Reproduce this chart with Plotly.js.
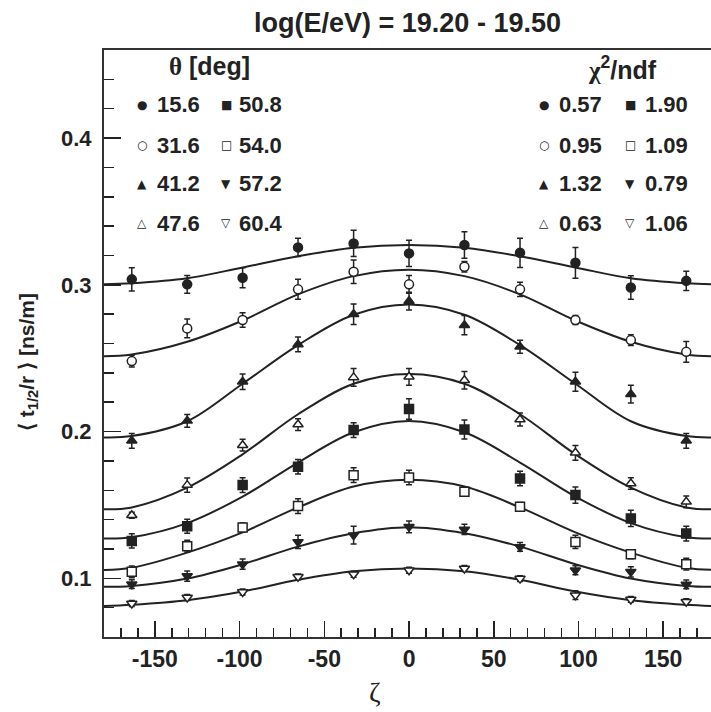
<!DOCTYPE html>
<html>
<head>
<meta charset="utf-8">
<script src="https://cdn.plot.ly/plotly-3.0.1.min.js"></script>
<style>html,body{margin:0;padding:0;background:#fff;overflow:hidden;}#chart{width:711px;height:712px;}</style>
</head>
<body>
<div id="chart"></div>
<script>
// zeta bin centres [deg]
const zeta = [-163.6, -130.9, -98.2, -65.5, -32.7, 0, 32.7, 65.5, 98.2, 130.9, 163.6];
// sampled fit curves
const zetaFit = [-180, -163.6, -130.9, -98.2, -65.5, -32.7, 0, 32.7, 65.5, 98.2, 130.9, 163.6, 180];

const thetaLabels = ['15.6', '31.6', '41.2', '47.6', '50.8', '54.0', '57.2', '60.4'];
const chi2Labels  = ['0.57', '0.95', '1.32', '0.63', '1.90', '1.09', '0.79', '1.06'];
const symbols     = ['circle', 'circle', 'triangle-up', 'triangle-up', 'square', 'square', 'triangle-down', 'triangle-down'];
const filled      = [true, false, true, false, true, false, true, false];
const glyphs      = ['●', '○', '▲', '△', '■', '□', '▼', '▽'];

// measured <t1/2/r> [ns/m]
const s156 = [0.3037, 0.3003, 0.3048, 0.3255, 0.3282, 0.3214, 0.3271, 0.3218, 0.3150, 0.2982, 0.3027];
const s316 = [0.2480, 0.2703, 0.2760, 0.2969, 0.3089, 0.3003, 0.3123, 0.2969, 0.2760, 0.2623, 0.2543];
const s412 = [0.1937, 0.2073, 0.2339, 0.2594, 0.2800, 0.2889, 0.2725, 0.2578, 0.2339, 0.2255, 0.1937];
const s476 = [0.1430, 0.1635, 0.1907, 0.2048, 0.2369, 0.2373, 0.2350, 0.2082, 0.1855, 0.1646, 0.1521];
const s508 = [0.1255, 0.1355, 0.1635, 0.1760, 0.2010, 0.2153, 0.2014, 0.1680, 0.1567, 0.1408, 0.1305];
const s540 = [0.1044, 0.1219, 0.1346, 0.1492, 0.1703, 0.1687, 0.1589, 0.1487, 0.1248, 0.1164, 0.1096];
const s572 = [0.0960, 0.1015, 0.1096, 0.1248, 0.1294, 0.1351, 0.1333, 0.1214, 0.1055, 0.1044, 0.0958];
const s604 = [0.0828, 0.0869, 0.0907, 0.1010, 0.1028, 0.1055, 0.1067, 0.0998, 0.0885, 0.0856, 0.0840];

// errors
const e156 = [0.0080, 0.0060, 0.0068, 0.0062, 0.0090, 0.0090, 0.0090, 0.0100, 0.0105, 0.0080, 0.0065];
const e316 = [0.0040, 0.0064, 0.0050, 0.0068, 0.0080, 0.0060, 0.0035, 0.0048, 0.0030, 0.0037, 0.0070];
const e412 = [0.0050, 0.0043, 0.0053, 0.0050, 0.0070, 0.0060, 0.0066, 0.0044, 0.0065, 0.0060, 0.0050];
const e476 = [0.0020, 0.0048, 0.0040, 0.0040, 0.0060, 0.0057, 0.0060, 0.0045, 0.0050, 0.0040, 0.0040];
const e508 = [0.0048, 0.0048, 0.0050, 0.0050, 0.0050, 0.0070, 0.0065, 0.0050, 0.0055, 0.0055, 0.0050];
const e540 = [0.0040, 0.0040, 0.0030, 0.0050, 0.0050, 0.0050, 0.0030, 0.0030, 0.0045, 0.0030, 0.0040];
const e572 = [0.0030, 0.0035, 0.0035, 0.0045, 0.0060, 0.0040, 0.0035, 0.0030, 0.0030, 0.0035, 0.0030];
const e604 = [0.0020, 0.0020, 0.0020, 0.0020, 0.0020, 0.0020, 0.0020, 0.0020, 0.0030, 0.0020, 0.0020];

// fit curves read at zetaFit
const f156 = [0.3003, 0.3010, 0.3044, 0.3118, 0.3194, 0.3252, 0.3271, 0.3252, 0.3194, 0.3118, 0.3044, 0.3010, 0.3003];
const f316 = [0.2513, 0.2525, 0.2612, 0.2757, 0.2935, 0.3059, 0.3103, 0.3059, 0.2935, 0.2757, 0.2612, 0.2525, 0.2513];
const f412 = [0.1960, 0.1969, 0.2070, 0.2326, 0.2589, 0.2796, 0.2866, 0.2796, 0.2589, 0.2326, 0.2070, 0.1969, 0.1960];
const f476 = [0.1470, 0.1483, 0.1618, 0.1845, 0.2118, 0.2326, 0.2393, 0.2326, 0.2118, 0.1845, 0.1618, 0.1483, 0.1470];
const f508 = [0.1271, 0.1280, 0.1376, 0.1557, 0.1789, 0.1995, 0.2072, 0.1995, 0.1789, 0.1557, 0.1376, 0.1280, 0.1271];
const f540 = [0.1057, 0.1072, 0.1175, 0.1313, 0.1483, 0.1625, 0.1671, 0.1625, 0.1483, 0.1313, 0.1175, 0.1072, 0.1057];
const f572 = [0.0942, 0.0948, 0.0998, 0.1096, 0.1216, 0.1307, 0.1348, 0.1307, 0.1216, 0.1096, 0.0998, 0.0948, 0.0942];
const f604 = [0.0811, 0.0820, 0.0851, 0.0910, 0.0990, 0.1048, 0.1067, 0.1048, 0.0990, 0.0910, 0.0851, 0.0820, 0.0811];

const series = [s156, s316, s412, s476, s508, s540, s572, s604];
const errors = [e156, e316, e412, e476, e508, e540, e572, e604];
const fits   = [f156, f316, f412, f476, f508, f540, f572, f604];

const INK = '#222222';
const traces = [];
fits.forEach(f => traces.push({
  x: zetaFit, y: f, type: 'scatter', mode: 'lines',
  line: {color: INK, width: 2, shape: 'spline', smoothing: 1.0},
  hoverinfo: 'skip'
}));
series.forEach((s, i) => traces.push({
  x: zeta, y: s, type: 'scatter', mode: 'markers',
  marker: {symbol: symbols[i], size: 9, color: filled[i] ? INK : '#ffffff',
           line: {color: INK, width: 1.5}},
  error_y: {type: 'data', array: errors[i], color: INK, thickness: 1.5, width: 3},
  hoverinfo: 'skip'
}));

// plot area in pixels: left 104, top 50, right 711, bottom 637
const L = 104, T = 50, R = 711, B = 637;
const px = x => (x - L) / (R - L);
const py = y => (B - y) / (B - T);

const ann = [];
const txtFont = {family: 'Liberation Sans, Arial, sans-serif', size: 22, color: INK, weight: 'bold'};
ann.push({xref: 'paper', yref: 'paper', x: px(209), y: py(66), xanchor: 'center', yanchor: 'middle', showarrow: false,
  text: '<span style="font-family:Liberation Serif">θ</span> [deg]', font: Object.assign({}, txtFont, {size: 25})});
ann.push({xref: 'paper', yref: 'paper', x: px(622), y: py(68), xanchor: 'center', yanchor: 'middle', showarrow: false,
  text: '<span style="font-family:Liberation Serif">χ</span><sup>2</sup>/ndf', font: Object.assign({}, txtFont, {size: 25})});
const rowY = [105, 145, 184, 223];
const colMarkL = [142, 226], colTextL = [155, 237];
const colMarkR = [544, 630], colTextR = [557, 643];
for (let i = 0; i < 8; i++) {
  const c = Math.floor(i / 4), r = i % 4;
  const gsize = (glyphs[i] === '●' || glyphs[i] === '○') ? 12 : 12;
  [[colMarkL, colTextL, thetaLabels], [colMarkR, colTextR, chi2Labels]].forEach(([cm, ct, lab]) => {
    ann.push({xref: 'paper', yref: 'paper', x: px(cm[c]), y: py(rowY[r]), xanchor: 'center', yanchor: 'middle',
      showarrow: false, text: glyphs[i], font: {family: 'DejaVu Sans', size: gsize, color: INK}});
    ann.push({xref: 'paper', yref: 'paper', x: px(ct[c]), y: py(rowY[r]), xanchor: 'left', yanchor: 'middle',
      showarrow: false, text: lab[i], font: txtFont});
  });
}
// axis titles
ann.push({xref: 'paper', yref: 'paper', x: px(375), y: py(692), xanchor: 'center', yanchor: 'middle', showarrow: false,
  text: 'ζ', font: {family: 'Liberation Serif, serif', size: 28, color: INK}});
ann.push({xref: 'paper', yref: 'paper', x: px(28), y: py(362), xanchor: 'center', yanchor: 'middle', showarrow: false,
  textangle: -90, text: '⟨ t<sub>1/2</sub>/r ⟩ [ns/m]', font: {family: 'Liberation Sans, Arial, sans-serif', size: 21, color: INK, weight: 'bold'}});

const layout = {
  width: 711, height: 712,
  margin: {l: L, r: 711 - R, t: T, b: 712 - B},
  paper_bgcolor: '#ffffff', plot_bgcolor: '#ffffff',
  showlegend: false,
  title: {text: 'log(E/eV) = 19.20 - 19.50', x: 0.5, xref: 'paper', xanchor: 'center',
          y: 1 - 23 / 712, yref: 'container', yanchor: 'middle',
          font: {family: 'Liberation Sans, Arial, sans-serif', size: 27, color: INK, weight: 'bold'}},
  xaxis: {range: [-180, 178.2], tickvals: [-150, -100, -50, 0, 50, 100, 150], ticktext: ['-150', '-100', '-50', '0', '50', '100', '150'],
          ticks: 'inside', ticklen: 16, tickwidth: 1.5, tickcolor: INK,
          minor: {dtick: 10, tick0: 0, ticks: 'inside', ticklen: 9, tickwidth: 1.5, tickcolor: INK, showgrid: false},
          showline: true, linecolor: '#333333', linewidth: 2, mirror: true, showgrid: false, zeroline: false,
          ticklabelstandoff: 0,
          tickfont: {family: 'Liberation Sans, Arial, sans-serif', size: 23, color: INK, weight: 'bold'}},
  yaxis: {range: [0.06, 0.46], tick0: 0, dtick: 0.1, tickformat: '.1f',
          ticks: 'inside', ticklen: 17, tickwidth: 1.5, tickcolor: INK,
          minor: {dtick: 0.02, tick0: 0, ticks: 'inside', ticklen: 10, tickwidth: 1.5, tickcolor: INK, showgrid: false},
          showline: true, linecolor: '#333333', linewidth: 2, mirror: false, showgrid: false, zeroline: false,
          ticklabelstandoff: 6,
          tickfont: {family: 'Liberation Sans, Arial, sans-serif', size: 22, color: INK, weight: 'bold'}},
  annotations: ann
};

Plotly.newPlot('chart', traces, layout, {staticPlot: true, displayModeBar: false});
</script>
</body>
</html>
